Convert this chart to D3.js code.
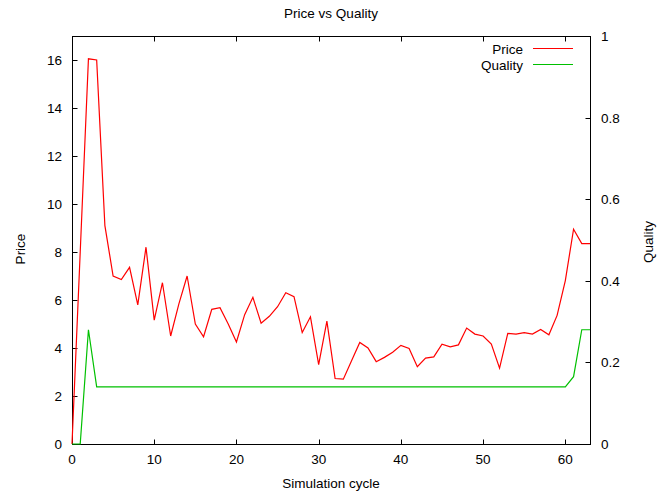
<!DOCTYPE html>
<html>
<head>
<meta charset="utf-8">
<script src="https://cdn.jsdelivr.net/npm/d3@7"></script>
<style>
  body { margin: 0; background: #fff; }
  text { font-family: "Liberation Sans", Arial, sans-serif; font-size: 13.5px; fill: #000; }
</style>
</head>
<body>
<svg id="chart" width="670" height="494"></svg>
<script>
// simulation cycles 0..63
const cycles = d3.range(0, 64);

const price = [
  0, 8, 16.05, 16.0, 9.1, 7.0, 6.85, 7.36, 5.8, 8.2,
  5.16, 6.72, 4.5, 5.84, 7.0, 5.0, 4.47, 5.61, 5.68, 5.0,
  4.25, 5.39, 6.11, 5.03, 5.32, 5.72, 6.3, 6.14, 4.64, 5.3,
  3.31, 5.12, 2.73, 2.7, 3.47, 4.23, 4.0, 3.43, 3.61, 3.82,
  4.11, 3.98, 3.22, 3.58, 3.63, 4.16, 4.05, 4.13, 4.83, 4.58,
  4.5, 4.16, 3.16, 4.61, 4.58, 4.64, 4.58, 4.77, 4.55, 5.36,
  6.81, 8.95, 8.35, 8.35
];

const quality = [
  0, 0, 0.28, 0.14, 0.14, 0.14, 0.14, 0.14, 0.14, 0.14,
  0.14, 0.14, 0.14, 0.14, 0.14, 0.14, 0.14, 0.14, 0.14, 0.14,
  0.14, 0.14, 0.14, 0.14, 0.14, 0.14, 0.14, 0.14, 0.14, 0.14,
  0.14, 0.14, 0.14, 0.14, 0.14, 0.14, 0.14, 0.14, 0.14, 0.14,
  0.14, 0.14, 0.14, 0.14, 0.14, 0.14, 0.14, 0.14, 0.14, 0.14,
  0.14, 0.14, 0.14, 0.14, 0.14, 0.14, 0.14, 0.14, 0.14, 0.14,
  0.14, 0.165, 0.28, 0.28
];

const xTicks = [0, 10, 20, 30, 40, 50, 60];
const yTicks = [0, 2, 4, 6, 8, 10, 12, 14, 16];
const y2Ticks = [0, 0.2, 0.4, 0.6, 0.8, 1];

const svg = d3.select('#chart');
const mLeft = 72, mRight = 590, mTop = 36, mBottom = 444;

const x = d3.scaleLinear().domain([0, 63]).range([mLeft, mRight]);
const y = d3.scaleLinear().domain([0, 17]).range([mBottom, mTop]);
const y2 = d3.scaleLinear().domain([0, 1]).range([mBottom, mTop]);

const tick = 5;

// frame
svg.append('rect')
  .attr('x', mLeft + 0.5).attr('y', mTop + 0.5)
  .attr('width', mRight - mLeft).attr('height', mBottom - mTop)
  .attr('fill', 'none').attr('stroke', '#000').attr('stroke-width', 1);

const ticks = svg.append('g').attr('stroke', '#000').attr('stroke-width', 1);

xTicks.forEach(t => {
  const px = Math.round(x(t)) + 0.5;
  ticks.append('line').attr('x1', px).attr('x2', px).attr('y1', mBottom + 0.5).attr('y2', mBottom + 0.5 - tick);
  ticks.append('line').attr('x1', px).attr('x2', px).attr('y1', mTop + 0.5).attr('y2', mTop + 0.5 + tick);
  svg.append('text').attr('x', x(t)).attr('y', 464).attr('text-anchor', 'middle').text(t);
});

yTicks.forEach(t => {
  const py = Math.round(y(t)) + 0.5;
  ticks.append('line').attr('x1', mLeft + 0.5).attr('x2', mLeft + 0.5 + tick).attr('y1', py).attr('y2', py);
  svg.append('text').attr('x', 62).attr('y', y(t) + 5).attr('text-anchor', 'end').text(t);
});

y2Ticks.forEach(t => {
  const py = Math.round(y2(t)) + 0.5;
  ticks.append('line').attr('x1', mRight + 0.5).attr('x2', mRight + 0.5 - tick).attr('y1', py).attr('y2', py);
  svg.append('text').attr('x', 601).attr('y', y2(t) + 5).attr('text-anchor', 'start').text(t);
});

// labels
svg.append('text').attr('x', (mLeft + mRight) / 2).attr('y', 18).attr('text-anchor', 'middle').text('Price vs Quality');
svg.append('text').attr('x', (mLeft + mRight) / 2).attr('y', 488).attr('text-anchor', 'middle').text('Simulation cycle');
svg.append('text').attr('transform', 'translate(25,249) rotate(-90)').attr('text-anchor', 'middle').text('Price');
svg.append('text').attr('transform', 'translate(653,242) rotate(-90)').attr('text-anchor', 'middle').text('Quality');

// series
const linePrice = d3.line().x((d, i) => x(cycles[i])).y(d => y(d));
const lineQuality = d3.line().x((d, i) => x(cycles[i])).y(d => y2(d));

svg.append('path').datum(price)
  .attr('d', linePrice).attr('fill', 'none').attr('stroke', '#ff0000').attr('stroke-width', 1.2);
svg.append('path').datum(quality)
  .attr('d', lineQuality).attr('fill', 'none').attr('stroke', '#00c000').attr('stroke-width', 1.2);

// legend
const legend = [
  { name: 'Price', color: '#ff0000', yy: 48.5 },
  { name: 'Quality', color: '#00c000', yy: 64.5 }
];
legend.forEach(l => {
  svg.append('text').attr('x', 523).attr('y', l.yy + 5).attr('text-anchor', 'end').text(l.name);
  svg.append('line').attr('x1', 533).attr('x2', 573).attr('y1', l.yy).attr('y2', l.yy)
    .attr('stroke', l.color).attr('stroke-width', 1.2);
});
</script>
</body>
</html>
